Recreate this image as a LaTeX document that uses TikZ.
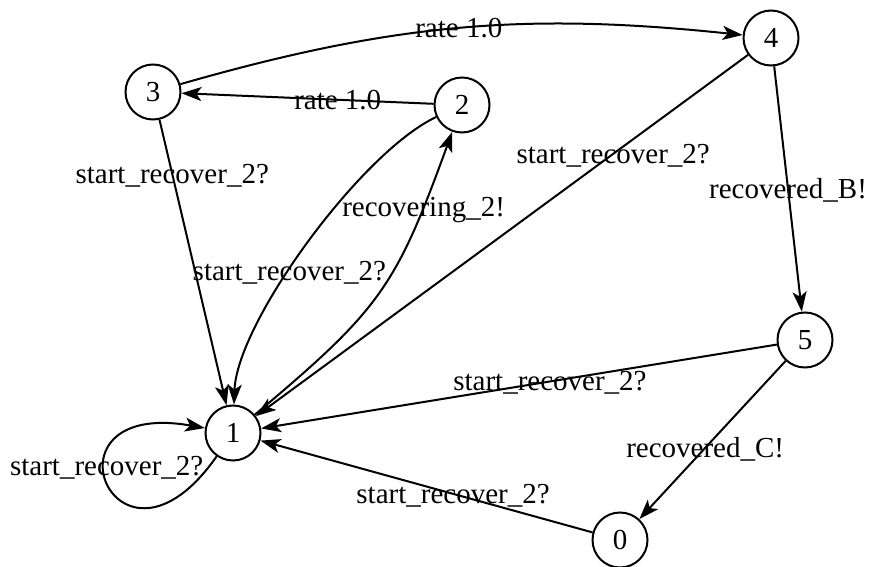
\documentclass[tikz,border=0pt]{standalone}
\usepackage{fontspec}
\setmainfont{Liberation Serif}
\usetikzlibrary{arrows.meta}
\begin{document}
\begin{tikzpicture}[x=1pt,y=1pt,
  state/.style={circle,draw,line width=2pt,minimum size=55pt,inner sep=0pt,
    font=\fontsize{29}{34}\selectfont},
  trans/.style={line width=2pt,-{Stealth[length=20pt,width=14pt,inset=5pt]}},
  lbl/.style={font=\fontsize{29}{34}\selectfont,inner sep=0pt,
    text height=19pt,text depth=0pt}]
\useasboundingbox (0,0) rectangle (870,566);

% locations
\node[state] (s0) at (620,26)  {0};
\node[state] (s1) at (233,133) {1};
\node[state] (s2) at (462,461) {2};
\node[state] (s3) at (153,474) {3};
\node[state] (s4) at (771,528) {4};
\node[state] (s5) at (805,226) {5};

% transitions
\draw[trans] (s3) to[bend left=11] node[lbl,pos=.5] {rate 1.0} (s4);
\draw[trans] (s2) -- node[lbl,pos=.38] {rate 1.0} (s3);
\draw[trans] (s3) -- node[lbl,pos=.19] {start\_recover\_2?} (s1);
\draw[trans] (s2) to[out=205,in=88,looseness=0.6]
  node[lbl,pos=.58] {start\_recover\_2?} (s1);
\draw[trans] (s1) to[out=40,in=250,looseness=1.22]
  node[lbl,pos=.81] {recovering\_2!} (s2);
\draw[trans] (s4) -- node[lbl,pos=.274] {start\_recover\_2?} (s1);
\draw[trans] (s4) -- node[lbl,pos=.5] {recovered\_B!} (s5);
\draw[trans] (s5) -- node[lbl,pos=.44] {start\_recover\_2?} (s1);
\draw[trans] (s5) -- node[lbl,pos=.55] {recovered\_C!} (s0);
\draw[trans] (s0) -- node[lbl,pos=.42] {start\_recover\_2?} (s1);
\draw[trans] (s1.235) .. controls +(235:175) and +(170:175) .. (s1.170)
  node[lbl,pos=.6,xshift=1pt] {start\_recover\_2?};
\end{tikzpicture}
\end{document}
